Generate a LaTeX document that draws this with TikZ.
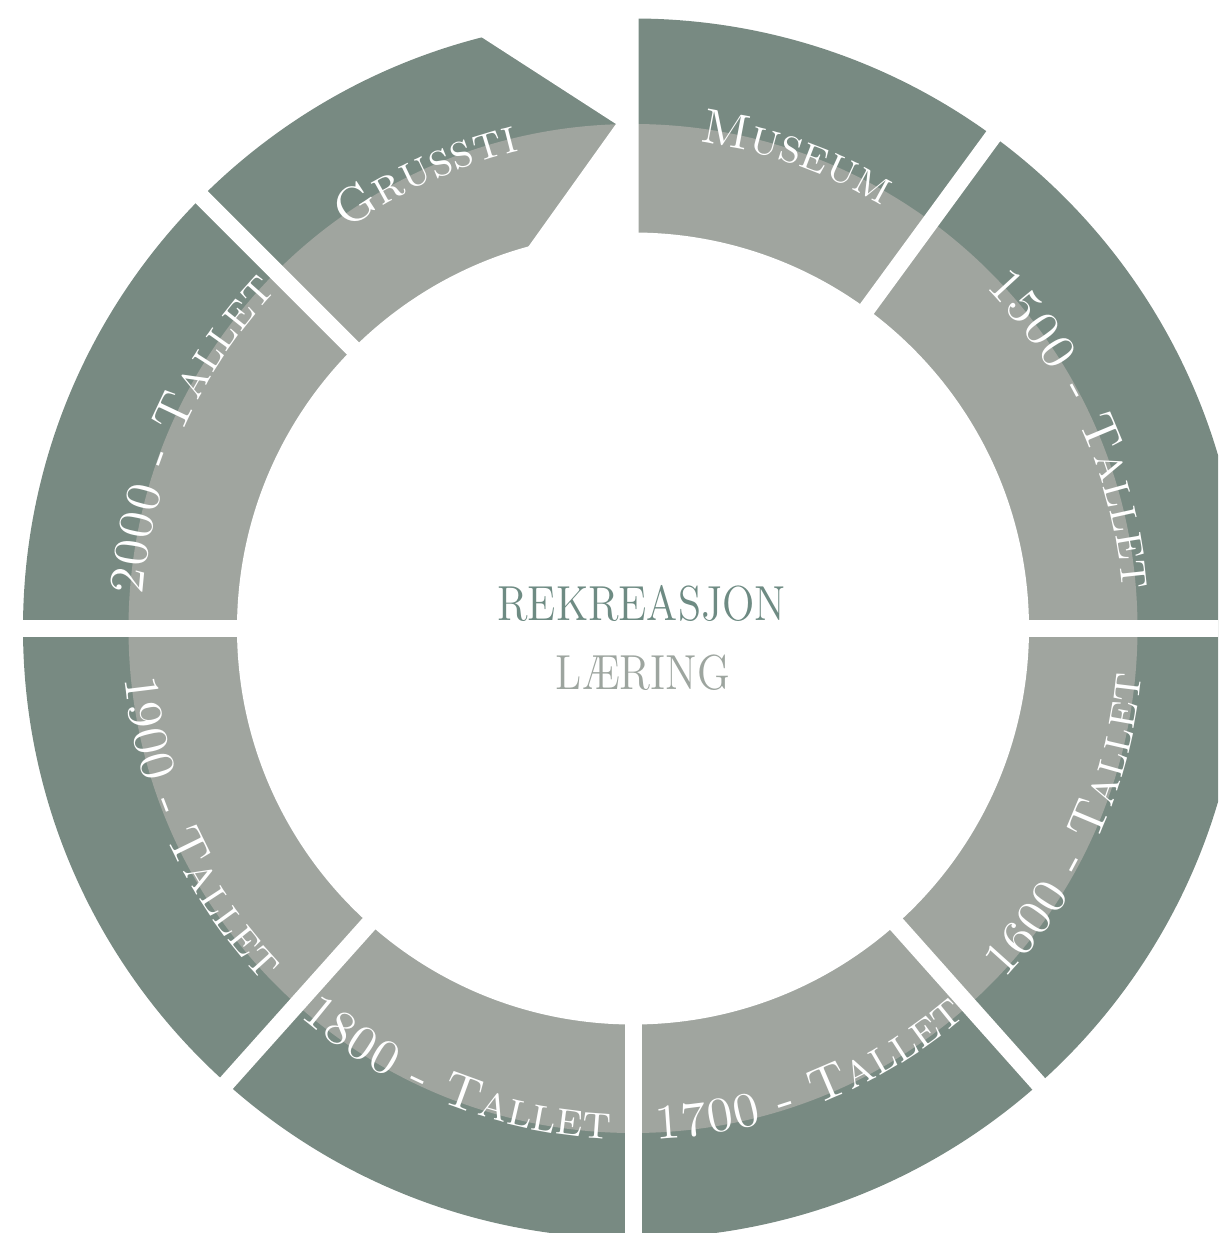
\documentclass[tikz,border=0pt]{standalone}
\usepackage{tikz}
\usetikzlibrary{decorations.text}
\definecolor{cBandDark}{RGB}{120,138,130}
\definecolor{cBandLight}{RGB}{160,165,159}
\definecolor{cTitle}{RGB}{110,139,131}
\definecolor{cSubtitle}{RGB}{157,165,159}
\newcommand{\ringfont}{\color{white}\fontsize{14}{16}\selectfont\scshape}
\tikzset{
    gapline/.style={draw=white, line width=1.7mm},
    ringlabel/.style={decorate, decoration={text along path, text align=center, text={|\ringfont|#1}}},
    centretitle/.style={font=\fontsize{14}{16}\selectfont, xscale=0.86, text=cTitle},
    centresub/.style={font=\fontsize{14}{16}\selectfont, xscale=0.87, text=cSubtitle},
}

\begin{document}
\begin{tikzpicture}
    \clip (-6.33,-6.045) rectangle (5.85,6.285);
    % ring bands
    \fill[cBandDark] (0,0) circle (6.10);
    \fill[cBandLight] (0,0) circle (5.045);
    \fill[white] (0,0) circle (3.96);
    % gaps between the periods
    \foreach \a in {0,53.8,135,180,228.2,270,311.7}
        \draw[gapline] (0,0) -- (\a:7);
    % arrow end of the path and the museum edge
    \fill[white] (0.057,3.0) -- (0.057,7.0) -- (-1.813,7.0) -- (-1.813,6.106)
        -- (-0.17,5.045) -- (-1.247,3.538) -- cycle;
    % labels, upper half
    \path[ringlabel={Museum}] (98.8:4.91) arc[start angle=98.8, end angle=42.8, radius=4.91];
    \path[ringlabel={Grussti}] (142.5:4.91) arc[start angle=142.5, end angle=86.5, radius=4.91];
    \path[ringlabel={2000 - Tallet}] (184.3:4.91) arc[start angle=184.3, end angle=128.3, radius=4.91];
    \path[ringlabel={1500 - Tallet}] (52.3:4.91) arc[start angle=52.3, end angle=-3.7, radius=4.91];
    % labels, lower half
    \path[ringlabel={1600 - Tallet}] (-52.3:5.11) arc[start angle=-52.3, end angle=3.7, radius=5.11];
    \path[ringlabel={1700 - Tallet}] (-96.4:5.11) arc[start angle=-96.4, end angle=-40.4, radius=5.11];
    \path[ringlabel={1800 - Tallet}] (220.4:5.11) arc[start angle=220.4, end angle=276.4, radius=5.11];
    \path[ringlabel={1900 - Tallet}] (176.6:5.11) arc[start angle=176.6, end angle=232.6, radius=5.11];
    % centre
    \node[centretitle] (title) at (0.085,0.255) {REKREASJON};
    \node[centresub] (subtitle) at (0.10,-0.445) {LÆRING};
\end{tikzpicture}
\end{document}
